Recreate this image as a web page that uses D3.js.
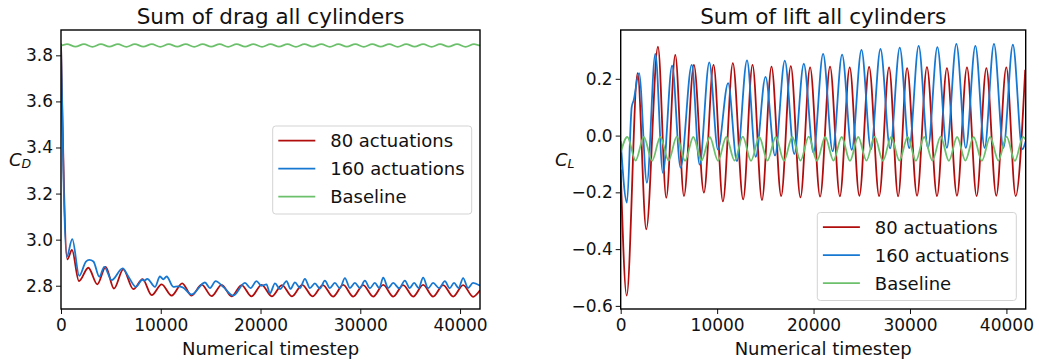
<!DOCTYPE html>
<html>
<head>
<meta charset="utf-8">
<script src="https://cdn.jsdelivr.net/npm/d3@7"></script>
<style>
  body { margin: 0; background: #fff; }
  text { font-family: "DejaVu Sans", sans-serif; fill: #111; }
</style>
</head>
<body>
<script>
"use strict" /* valori: picchi e valli di ogni serie */

const tickX = [0, 10000, 20000, 30000, 40000];
const tickDrag = [2.8, 3.0, 3.2, 3.4, 3.6, 3.8];
const tickLift = [-0.6, -0.4, -0.2, 0.0, 0.2];
const nomiSerie = ["80 actuations", "160 actuations", "Baseline"];
const colori = ["#b10d0d", "#1778d2", "#6cc06c"];

/* drag, 80 attuazioni: [timestep, CD] */
const drag80 = [[0, 3.85], [630, 2.914], [1100, 2.955], [1800, 2.82], [2740, 2.878], [3640, 2.806],
  [4480, 2.882], [5310, 2.788], [6240, 2.871], [7250, 2.785], [8180, 2.829], [9090, 2.759],
  [10090, 2.806], [11090, 2.757], [12150, 2.81], [13090, 2.757], [14100, 2.805], [15100, 2.755],
  [16100, 2.804], [17100, 2.754], [18100, 2.803], [19100, 2.754], [20110, 2.804], [21130, 2.754],
  [22150, 2.803], [23160, 2.754], [24180, 2.804], [25210, 2.754], [26250, 2.803], [27270, 2.753],
  [28290, 2.804], [29290, 2.753], [30290, 2.803], [31290, 2.753], [32300, 2.804], [33300, 2.753],
  [34300, 2.803], [35300, 2.753], [36300, 2.804], [37300, 2.753], [38310, 2.803], [39310, 2.753],
  [40310, 2.803], [41310, 2.752], [42000, 2.78]];

/* drag, 160 attuazioni */
const drag160 = [[0, 3.85], [570, 2.925], [1130, 3.002], [1830, 2.843], [2500, 2.905], [2840, 2.912],
  [3250, 2.905], [3840, 2.839], [4340, 2.882], [5080, 2.824], [6180, 2.875], [6750, 2.84],
  [7510, 2.795], [8150, 2.826], [8350, 2.822], [8650, 2.83], [9420, 2.795], [9920, 2.84],
  [10250, 2.828], [10590, 2.84], [11260, 2.795], [11700, 2.797], [12200, 2.793], [13090, 2.762],
  [14430, 2.814], [14930, 2.79], [15500, 2.82], [16260, 2.795], [17260, 2.757], [18440, 2.812],
  [19000, 2.79], [19600, 2.82], [20100, 2.8], [20600, 2.806], [20940, 2.767], [21450, 2.81],
  [21950, 2.785], [22610, 2.82], [23000, 2.786], [23450, 2.815], [23950, 2.79], [24450, 2.83],
  [24950, 2.79], [25450, 2.81], [25950, 2.788], [26450, 2.822], [26950, 2.79], [27450, 2.812],
  [27950, 2.789], [28460, 2.833], [28960, 2.79], [29460, 2.812], [29960, 2.79], [30460, 2.822],
  [30960, 2.789], [31460, 2.812], [31900, 2.79], [32300, 2.835], [32800, 2.79], [33300, 2.812],
  [33900, 2.789], [34470, 2.822], [34950, 2.79], [35400, 2.812], [35850, 2.79], [36300, 2.835],
  [36800, 2.789], [37300, 2.812], [37900, 2.79], [38480, 2.82], [38950, 2.789], [39400, 2.812],
  [39850, 2.79], [40310, 2.833], [40800, 2.79], [41300, 2.812], [42000, 2.8]];

/* drag, baseline */
const dragBase = [[0, 3.842], [600, 3.849], [1450, 3.838], [2300, 3.849], [3150, 3.837], [4000, 3.849],
  [4850, 3.838], [5700, 3.849], [6550, 3.837], [7400, 3.849], [8250, 3.838], [9100, 3.849],
  [9950, 3.837], [10800, 3.849], [11650, 3.838], [12500, 3.849], [13350, 3.837], [14200, 3.849],
  [15050, 3.838], [15900, 3.849], [16750, 3.837], [17600, 3.849], [18450, 3.838], [19300, 3.849],
  [20150, 3.837], [21000, 3.849], [21850, 3.838], [22700, 3.849], [23550, 3.837], [24400, 3.849],
  [25250, 3.838], [26100, 3.849], [26950, 3.837], [27800, 3.849], [28650, 3.838], [29500, 3.849],
  [30350, 3.837], [31200, 3.849], [32050, 3.838], [32900, 3.849], [33750, 3.837], [34600, 3.849],
  [35450, 3.838], [36300, 3.849], [37150, 3.837], [38000, 3.849], [38850, 3.838], [39700, 3.849],
  [40550, 3.837], [41400, 3.849], [42000, 3.842]];

/* lift, 80 attuazioni: [timestep, CL] */
const lift80 = [[0, -0.12], [620, -0.564], [1750, 0.22], [2650, -0.33], [3865, 0.313], [4725, -0.219],
  [5660, 0.284], [6560, -0.213], [7590, 0.249], [8630, -0.201], [9630, 0.249], [10600, -0.232],
  [11630, 0.255], [12700, -0.225], [13670, 0.249], [14650, -0.227], [15640, 0.243], [16640, -0.213],
  [17640, 0.245], [18640, -0.218], [19640, 0.24], [20680, -0.215], [21710, 0.243], [22730, -0.214],
  [23750, 0.24], [24750, -0.212], [25760, 0.242], [26800, -0.213], [27830, 0.24], [28770, -0.214],
  [29700, 0.238], [30730, -0.212], [31760, 0.241], [32800, -0.213], [33830, 0.238], [34870, -0.212],
  [35910, 0.24], [36910, -0.213], [37920, 0.238], [38950, -0.212], [39990, 0.24], [40960, -0.213],
  [41950, 0.232]];

/* lift, 160 attuazioni */
const lift160 = [[0, -0.02], [650, -0.236], [1140, 0.10], [1350, 0.125], [1900, 0.22], [2720, -0.166],
  [3590, 0.288], [4380, -0.131], [5330, 0.246], [6210, -0.113], [7370, 0.249], [8180, -0.102],
  [9190, 0.258], [10080, -0.049], [11140, 0.185], [12050, -0.09], [13100, 0.265], [14000, -0.075],
  [15020, 0.207], [16000, -0.07], [17020, 0.264], [18000, -0.065], [18990, 0.253], [19990, -0.06],
  [20990, 0.288], [21980, -0.055], [22960, 0.285], [23960, -0.05], [24970, 0.302], [25950, -0.048],
  [26940, 0.305], [27940, -0.045], [28940, 0.31], [29920, -0.044], [30900, 0.316], [31870, -0.043],
  [32840, 0.312], [33820, -0.043], [34810, 0.323], [35790, -0.043], [36780, 0.316], [37740, -0.043],
  [38710, 0.323], [39690, -0.043], [40670, 0.32], [41650, -0.048], [42000, -0.02]];

/* lift, baseline */
const liftBase = [[0, -0.06], [690, -0.005], [1545, -0.088], [2400, -0.005], [3255, -0.089],
  [4110, -0.005], [4965, -0.088], [5820, -0.004], [6675, -0.089], [7530, -0.005], [8385, -0.088],
  [9240, -0.005], [10095, -0.089], [10950, -0.005], [11805, -0.088], [12660, -0.004], [13515, -0.089],
  [14370, -0.005], [15225, -0.088], [16080, -0.005], [16935, -0.089], [17790, -0.005], [18645, -0.088],
  [19500, -0.004], [20355, -0.089], [21210, -0.005], [22065, -0.088], [22920, -0.005], [23775, -0.089],
  [24630, -0.005], [25485, -0.088], [26340, -0.004], [27195, -0.089], [28050, -0.005], [28905, -0.088],
  [29760, -0.005], [30615, -0.089], [31470, -0.005], [32325, -0.088], [33180, -0.004], [34035, -0.089],
  [34890, -0.005], [35745, -0.088], [36600, -0.005], [37455, -0.089], [38310, -0.005], [39165, -0.088],
  [40020, -0.004], [40875, -0.089], [41730, -0.005], [42000, -0.015]];

const svg = d3.select("body").append("svg")
  .attr("width", 1039).attr("height", 363);

/* disegna un pannello completo */
function pannello(p) {
  const x = d3.scaleLinear().domain([0, 42000]).range([p.x0, p.x1]);
  const y = d3.scaleLinear().domain(p.dominio).range([309, 30]);
  const g = svg.append("g");

  g.append("clipPath").attr("id", p.id)
    .append("rect").attr("x", p.x0).attr("y", 30)
    .attr("width", p.x1 - p.x0).attr("height", 279);

  const linea = d3.line()
    .x(d => x(d[0])).y(d => y(d[1]))
    .curve(d3.curveMonotoneX);

  p.serie.forEach((s, i) => {
    g.append("path").datum(s)
      .attr("clip-path", `url(#${p.id})`)
      .attr("d", linea)
      .attr("fill", "none")
      .attr("stroke", colori[i])
      .attr("stroke-width", 1.8);
  });

  /* assi */
  const asseX = g.append("g").attr("transform", "translate(0,309)")
    .call(d3.axisBottom(x).tickValues(tickX).tickFormat(d3.format("d"))
      .tickSize(5).tickPadding(5));
  const asseY = g.append("g").attr("transform", `translate(${p.x0},0)`)
    .call(d3.axisLeft(y).tickValues(p.ticks).tickFormat(d3.format(".1f"))
      .tickSize(5).tickPadding(3));
  [asseX, asseY].forEach(a => {
    a.select(".domain").remove();
    a.selectAll("text").attr("font-size", "17px")
      .attr("font-family", "DejaVu Sans").attr("fill", "#111");
    a.selectAll("line").attr("stroke", "#111").attr("stroke-width", 1);
  });

  g.append("rect").attr("x", p.x0).attr("y", 30)
    .attr("width", p.x1 - p.x0).attr("height", 279)
    .attr("fill", "none").attr("stroke", "#000").attr("stroke-width", 1.4);

  /* titolo ed etichette */
  g.append("text").attr("x", (p.x0 + p.x1) / 2).attr("y", 24)
    .attr("text-anchor", "middle").attr("font-size", "21.5px").text(p.titolo);
  g.append("text").attr("x", (p.x0 + p.x1) / 2).attr("y", 355)
    .attr("text-anchor", "middle").attr("font-size", "18px").text("Numerical timestep");
  const et = g.append("text").attr("x", p.etX).attr("y", 165.5)
    .attr("font-size", "18px").attr("font-style", "italic");
  et.append("tspan").text("C");
  et.append("tspan").attr("font-size", "12.5px").attr("dy", 2.5).text(p.pedice);

  /* legenda */
  const l = g.append("g").attr("transform", `translate(${p.leg[0]},${p.leg[1]})`);
  l.append("rect").attr("width", 199).attr("height", 88).attr("rx", 3)
    .attr("fill", "#fff").attr("fill-opacity", 0.85)
    .attr("stroke", "#d3d3d3").attr("stroke-width", 1);
  nomiSerie.forEach((n, i) => {
    const yy = 14.7 + i * 28;
    l.append("line").attr("x1", 5.6).attr("x2", 42.6).attr("y1", yy).attr("y2", yy)
      .attr("stroke", colori[i]).attr("stroke-width", 1.8);
    l.append("text").attr("x", 57.5).attr("y", yy + 6.5)
      .attr("font-size", "18px").text(n);
  });
}

pannello({
  id: "clipDrag", x0: 61, x1: 480, dominio: [2.699, 3.91], ticks: tickDrag,
  serie: [drag80, drag160, dragBase], titolo: "Sum of drag all cylinders",
  etX: 9, pedice: "D", leg: [272.7, 126]
});
pannello({
  id: "clipLift", x0: 620.7, x1: 1025.7, dominio: [-0.611, 0.372], ticks: tickLift,
  serie: [lift80, lift160, liftBase], titolo: "Sum of lift all cylinders",
  etX: 555, pedice: "L", leg: [817.3, 212.5]
});
</script>
</body>
</html>
